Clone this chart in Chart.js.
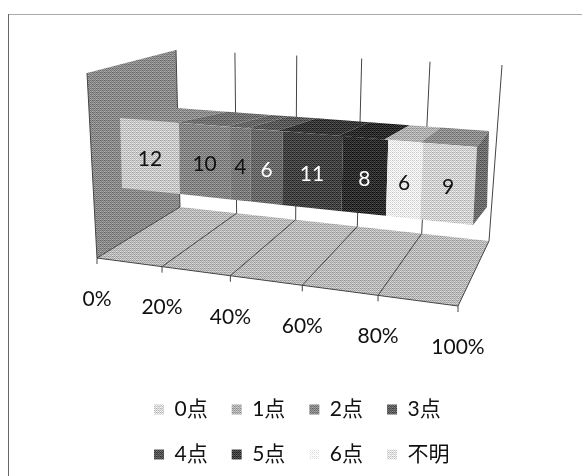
<!DOCTYPE html>
<html>
<head>
<meta charset="utf-8">
<style>
html, body { margin: 0; padding: 0; background: #fff; }
canvas { display: block; }
</style>
<script src="https://cdn.jsdelivr.net/npm/chart.js@4/dist/chart.umd.min.js"></script>
</head>
<body>
<canvas id="myChart" width="582" height="476"></canvas>
<script>
var categories = ['合計'];
var seriesNames = ['0点', '1点', '2点', '3点', '4点', '5点', '6点', '不明'];
var seriesValues = [12, 10, 4, 6, 11, 8, 6, 9];
var seriesGrays = [200, 132, 122, 104, 66, 46, 238, 208];
var topGrays = [140, 112, 102, 88, 56, 44, 175, 140];
var legendGrays = [215, 175, 135, 95, 85, 65, 255, 225];
var tickPercents = [0, 20, 40, 60, 80, 100];

var total = seriesValues.reduce(function(a, b) { return a + b; }, 0);
var fontName = 'Lato, "Noto Sans CJK JP", sans-serif';

// halftone tile, the reference is a scan
var bayer = [0, 8, 2, 10, 12, 4, 14, 6, 3, 11, 1, 9, 15, 7, 13, 5];
function halftone(gray) {
    var tile = document.createElement('canvas');
    tile.width = 4;
    tile.height = 4;
    var c = tile.getContext('2d');
    var spread = 40;
    for (var i = 0; i < 16; i++) {
        var g = Math.max(0, Math.min(255, gray + (bayer[i] / 15 - 0.5) * 2 * spread));
        c.fillStyle = 'rgb(' + g + ',' + g + ',' + g + ')';
        c.fillRect(i % 4, Math.floor(i / 4), 1, 1);
    }
    return c.createPattern(tile, 'repeat');
}

// quad order: left-near, right-near, right-far, left-far
function solve(q) {
    var dx1 = q[1][0] - q[2][0], dx2 = q[3][0] - q[2][0], sx = q[0][0] - q[1][0] + q[2][0] - q[3][0];
    var dy1 = q[1][1] - q[2][1], dy2 = q[3][1] - q[2][1], sy = q[0][1] - q[1][1] + q[2][1] - q[3][1];
    var det = dx1 * dy2 - dx2 * dy1;
    var g = (sx * dy2 - dx2 * sy) / det;
    var h = (dx1 * sy - sx * dy1) / det;
    var a = q[1][0] - q[0][0] + g * q[1][0], b = q[3][0] - q[0][0] + h * q[3][0];
    var d = q[1][1] - q[0][1] + g * q[1][1], e = q[3][1] - q[0][1] + h * q[3][1];
    return function(u, v) {
        var w = g * u + h * v + 1;
        return [(a * u + b * v + q[0][0]) / w, (d * u + e * v + q[0][1]) / w];
    };
}

var floorPlane = solve([[97, 258], [458, 306], [489, 241], [180, 207]]);
var wallPlane = solve([[180, 207], [489, 241], [502, 65], [176, 50]]);
var sidePlane = [[97, 258], [87, 73], [176, 50], [180, 207]];
var barFront = solve([[120, 118], [477, 147], [473, 225], [122, 188]]);
var barTop = solve([[120, 118], [477, 147], [489, 131], [177, 108]]);
var barEnd = [[477, 147], [489, 131], [487, 207], [473, 225]];

function poly(ctx, pts, fill) {
    ctx.beginPath();
    ctx.moveTo(pts[0][0], pts[0][1]);
    for (var i = 1; i < pts.length; i++) ctx.lineTo(pts[i][0], pts[i][1]);
    ctx.closePath();
    ctx.fillStyle = fill;
    ctx.fill();
}

function line(ctx, a, b) {
    ctx.beginPath();
    ctx.moveTo(a[0], a[1]);
    ctx.lineTo(b[0], b[1]);
    ctx.stroke();
}

var box3d = {
    id: 'box3d',
    beforeDraw: function(chart) {
        var ctx = chart.ctx;
        ctx.save();
        ctx.lineWidth = 1;
        ctx.strokeStyle = '#aaa';
        line(ctx, [8, 14.5], [582, 14.5]);
        ctx.strokeStyle = '#666';
        line(ctx, [8.5, 14], [8.5, 476]);
        ctx.restore();
    },
    beforeDatasetsDraw: function(chart) {
        var ctx = chart.ctx;
        var xs = chart.scales.x;
        var area = chart.chartArea;
        var frac = function(px) { return (px - area.left) / (area.right - area.left); };
        ctx.save();

        // left wall and floor
        poly(ctx, sidePlane, halftone(138));
        poly(ctx, [floorPlane(0, 0), floorPlane(1, 0), floorPlane(1, 1), floorPlane(0, 1)], halftone(185));

        ctx.strokeStyle = '#444';
        ctx.lineWidth = 1;
        xs.ticks.forEach(function(t) {
            var u = frac(xs.getPixelForValue(t.value));
            var front = floorPlane(u, 0);
            var back = floorPlane(u, 1);
            line(ctx, front, back);
            line(ctx, back, wallPlane(u, 1));
            line(ctx, front, [front[0], front[1] + 6]);

            ctx.fillStyle = '#111';
            ctx.font = '21px ' + fontName;
            ctx.textAlign = 'center';
            ctx.textBaseline = 'middle';
            ctx.fillText(t.label, front[0], front[1] + 41);
        });
        line(ctx, floorPlane(0, 0), floorPlane(1, 0));
        line(ctx, floorPlane(0, 0), [87, 73]);

        // bars come from the controller's elements
        chart.data.datasets.forEach(function(ds, i) {
            var el = chart.getDatasetMeta(i).data[0];
            var u0 = frac(el.base), u1 = frac(el.x);
            var v0 = (el.y - el.height / 2 - area.top) / (area.bottom - area.top);
            var v1 = (el.y + el.height / 2 - area.top) / (area.bottom - area.top);
            poly(ctx, [barTop(u0, 0), barTop(u1, 0), barTop(u1, 1), barTop(u0, 1)], halftone(topGrays[i]));
            poly(ctx, [barFront(u0, v0), barFront(u1, v0), barFront(u1, v1), barFront(u0, v1)], halftone(seriesGrays[i]));
        });
        poly(ctx, barEnd, halftone(108));

        chart.data.datasets.forEach(function(ds, i) {
            var el = chart.getDatasetMeta(i).data[0];
            var uc = (frac(el.base) + frac(el.x)) / 2;
            var p = barFront(uc, 0.54);
            ctx.fillStyle = (i >= 3 && i <= 5) ? '#fff' : '#111';
            ctx.font = '21px ' + fontName;
            ctx.textAlign = 'center';
            ctx.textBaseline = 'middle';
            ctx.fillText(String(ds.data[0]), p[0], p[1]);
        });

        ctx.restore();
        return false;
    }
};

new Chart(
    document.getElementById('myChart').getContext('2d'), {
        type: 'bar',
        data: {
            labels: categories,
            datasets: seriesNames.map(function(name, i) {
                return {
                    label: name,
                    data: [seriesValues[i]],
                    backgroundColor: halftone(legendGrays[i]),
                    borderWidth: 0,
                    barPercentage: 1,
                    categoryPercentage: 1
                };
            })
        },
        options: {
            indexAxis: 'y',
            responsive: false,
            animation: false,
            layout: {
                padding: { left: 130, right: 92, top: 10, bottom: 1 }
            },
            scales: {
                x: {
                    display: false,
                    stacked: true,
                    min: 0,
                    max: total,
                    afterBuildTicks: function(axis) {
                        axis.ticks = tickPercents.map(function(p) {
                            return { value: total * p / 100 };
                        });
                    },
                    ticks: {
                        callback: function(value) {
                            return Math.round(value / total * 100) + '%';
                        }
                    }
                },
                y: { display: false, stacked: true }
            },
            plugins: {
                tooltip: { enabled: false },
                legend: {
                    position: 'bottom',
                    align: 'start',
                    labels: {
                        boxWidth: 10,
                        boxHeight: 10,
                        padding: 24,
                        color: '#111',
                        font: { family: fontName, size: 21 }
                    }
                }
            }
        },
        plugins: [box3d]
    }
);
</script>
</body>
</html>
